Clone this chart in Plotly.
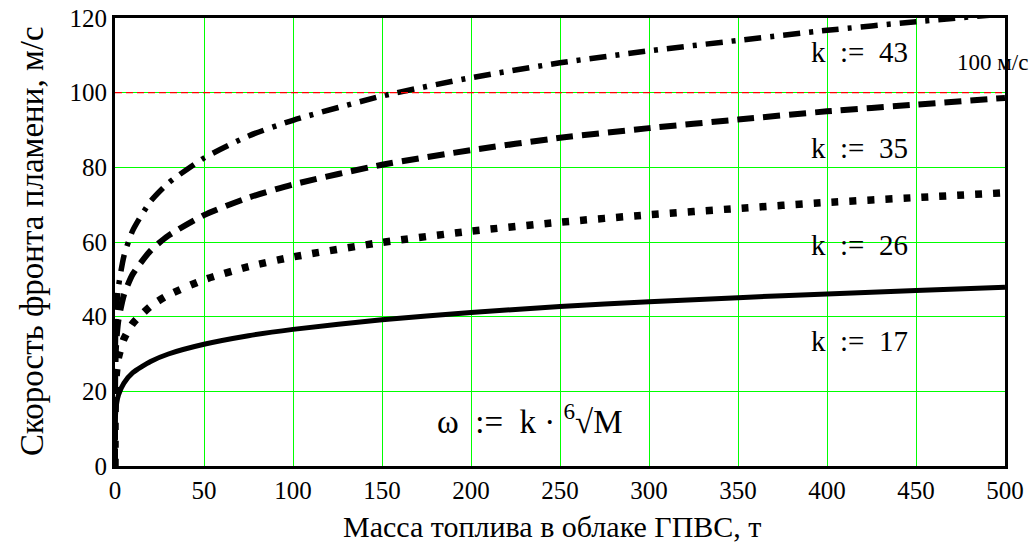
import plotly.graph_objects as go

# Fuel mass in the cloud, t
mass = [0, 0.001, 0.01, 0.1, 0.5, 1, 2, 5, 10, 20, 30, 50, 75, 100, 150,
        200, 250, 300, 350, 400, 450, 500]
# Flame front speed, m/s, for each k
speed_k17 = [0, 5.4, 7.9, 11.6, 15.1, 17.0, 19.1, 22.2, 25.0, 28.0, 30.0, 32.6,
             34.9, 36.6, 39.2, 41.1, 42.7, 44.0, 45.1, 46.1, 47.0, 47.9]
speed_k26 = [0, 8.2, 12.1, 17.7, 23.2, 26.0, 29.2, 34.0, 38.2, 42.8, 45.8, 49.9,
             53.4, 56.0, 59.9, 62.9, 65.3, 67.3, 69.0, 70.6, 71.9, 73.2]
speed_k35 = [0, 11.1, 16.2, 23.8, 31.2, 35.0, 39.3, 45.8, 51.4, 57.7, 61.7, 67.2,
             71.9, 75.4, 80.7, 84.6, 87.9, 90.5, 92.8, 95.0, 96.8, 98.6]
speed_k43 = [0, 13.6, 20.0, 29.3, 38.3, 43.0, 48.2, 56.2, 63.1, 70.9, 75.8, 82.5,
             88.4, 92.6, 99.1, 104.0, 108.0, 111.2, 114.0, 116.7, 119.0, 121.1]

limit_speed = 100
x_ticks = [0, 50, 100, 150, 200, 250, 300, 350, 400, 450, 500]
y_ticks = [0, 20, 40, 60, 80, 100, 120]

labels = ["k\u00a0 :=\u00a0 17", "k\u00a0 :=\u00a0 26", "k\u00a0 :=\u00a0 35", "k\u00a0 :=\u00a0 43"]
label_y = [33.4, 59.2, 85.2, 111.0]

x_title = "Масса топлива в облаке ГПВС, т"
y_title = "Скорость фронта пламени, м/с"

FONT = "Liberation Serif, Times New Roman, serif"

fig = go.Figure()
styles = [
    (speed_k17, "solid", 5),
    (speed_k26, "7px,11px", 7.5),
    (speed_k35, "17px,9px", 6),
    (speed_k43, "17px,9px,4px,9px", 5.5),
]
for ys, dash, w in styles:
    fig.add_trace(go.Scatter(x=mass, y=ys, mode="lines",
                             line=dict(color="black", width=w, dash=dash, shape="spline", smoothing=0.6),
                             showlegend=False, hoverinfo="skip"))

fig.add_trace(go.Scatter(x=[0, 500], y=[limit_speed, limit_speed], mode="lines",
                         line=dict(color="#ff0000", width=1.2, dash="7px,4px"),
                         showlegend=False, hoverinfo="skip"))

for t, y in zip(labels, label_y):
    fig.add_annotation(x=418, y=y, text=t, showarrow=False,
                       font=dict(family=FONT, size=29, color="black"))

fig.add_annotation(x=493, y=108.0, text="100 м/с", showarrow=False,
                   font=dict(family=FONT, size=23, color="black"))
fig.add_annotation(x=233, y=12.6, text="ω\u00a0 :=\u00a0 k · <sup>6</sup>√M", showarrow=False,
                   font=dict(family=FONT, size=33, color="black"))

# axis titles
fig.add_annotation(xref="paper", yref="paper", x=0.491, y=-0.134, text=x_title,
                   showarrow=False, xanchor="center", yanchor="middle",
                   font=dict(family=FONT, size=30, color="black"))
fig.add_annotation(xref="paper", yref="paper", x=-0.0933, y=0.502, text=y_title,
                   showarrow=False, xanchor="center", yanchor="middle", textangle=-90,
                   font=dict(family=FONT, size=33, color="black"))

fig.update_layout(
    width=1034, height=545,
    margin=dict(l=115, r=29, t=18, b=79, autoexpand=False),
    plot_bgcolor="white", paper_bgcolor="white",
    font=dict(family=FONT, color="black"),
    xaxis=dict(range=[0, 500], tickvals=x_ticks, showgrid=True, gridcolor="#00ff00", gridwidth=1,
               zeroline=False, showline=True, linecolor="black", linewidth=3, mirror=True,
               ticks="", tickfont=dict(family=FONT, size=25), automargin=False),
    yaxis=dict(range=[0, 120], tickvals=y_ticks, showgrid=True, gridcolor="#00ff00", gridwidth=1,
               zeroline=False, showline=True, linecolor="black", linewidth=3, mirror=True,
               ticks="", tickfont=dict(family=FONT, size=25), automargin=False),
)

fig.write_html("out.html")
